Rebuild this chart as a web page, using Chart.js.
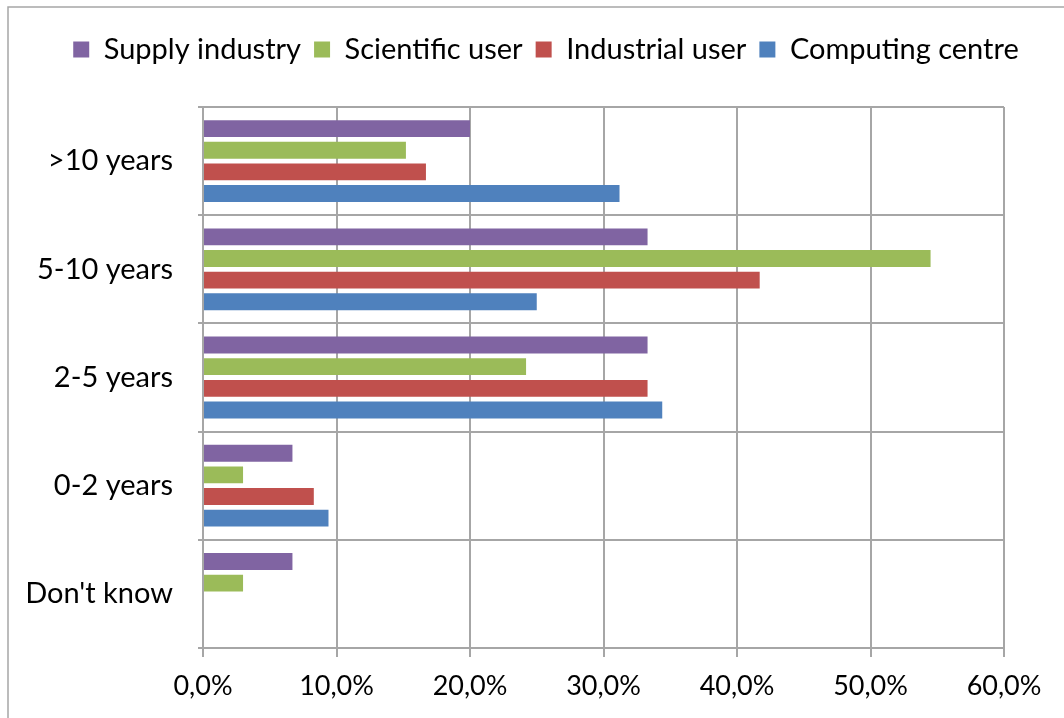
<!DOCTYPE html>
<html>
<head>
<meta charset="utf-8">
<script src="https://cdn.jsdelivr.net/npm/chart.js@4.4.1/dist/chart.umd.min.js"></script>
<style>
  html, body { margin: 0; padding: 0; background: #fff; }
  #wrap { width: 1064px; height: 718px; }
</style>
</head>
<body>
<div id="wrap"><canvas id="myChart" width="1064" height="718"></canvas></div>
<script>
// Données (en %)
const categories = ['>10 years', '5-10 years', '2-5 years', '0-2 years', "Don't know"];
const supplyIndustry  = [20.0, 33.3, 33.3, 6.7, 6.7];
const scientificUser  = [15.2, 54.5, 24.2, 3.0, 3.0];
const industrialUser  = [16.7, 41.7, 33.3, 8.3, 0];
const computingCentre = [31.2, 25.0, 34.4, 9.4, 0];
const xTicks = [0, 10, 20, 30, 40, 50, 60];

const FONT = 'Lato';
const gridColor = '#a6a6a6';

// Cadre gris autour du graphique
const framePlugin = {
    id: 'frame',
    beforeDraw(chart) {
        const ctx = chart.ctx;
        ctx.save();
        ctx.fillStyle = '#fff';
        ctx.fillRect(0, 0, chart.width, chart.height);
        ctx.strokeStyle = '#a6a6a6';
        ctx.lineWidth = 1.5;
        ctx.strokeRect(8, 7, chart.width + 20, chart.height + 20);
        ctx.restore();
    }
};

// Hauteur fixe pour la légende
const legendHeight = {
    id: 'legendHeight',
    beforeInit(chart) {
        const fit = chart.legend.fit;
        chart.legend.fit = function() {
            fit.bind(chart.legend)();
            this.height = 85;
        };
    }
};

const ctx = document.getElementById('myChart').getContext('2d');
const myChart = new Chart(ctx, {
    type: 'bar',
    data: {
        labels: categories,
        datasets: [
            { label: 'Supply industry',  data: supplyIndustry,  backgroundColor: '#8064A2' },
            { label: 'Scientific user',  data: scientificUser,  backgroundColor: '#9BBB59' },
            { label: 'Industrial user',  data: industrialUser,  backgroundColor: '#C0504D' },
            { label: 'Computing centre', data: computingCentre, backgroundColor: '#4F81BD' }
        ]
    },
    plugins: [framePlugin, legendHeight],
    options: {
        indexAxis: 'y',
        responsive: false,
        animation: false,
        devicePixelRatio: 1,
        categoryPercentage: 0.8,
        barPercentage: 0.78,
        layout: { padding: { left: 28, right: 0, top: 22, bottom: 0 } },
        scales: {
            x: {
                type: 'linear',
                min: 0,
                max: 60,
                afterBuildTicks: scale => { scale.ticks = xTicks.map(v => ({ value: v })); },
                afterFit: scale => { scale.height = 70; },
                grid: { color: gridColor, lineWidth: 2, tickLength: 9 },
                border: { display: false },
                ticks: {
                    color: '#000',
                    padding: 13,
                    font: { family: FONT, size: 27 },
                    callback: v => v.toFixed(1).replace('.', ',') + '%'
                }
            },
            y: {
                afterFit: scale => { scale.width = 175; },
                grid: { color: gridColor, lineWidth: 2, offset: true, tickLength: 5 },
                border: { display: false },
                ticks: {
                    color: '#000',
                    padding: 25,
                    font: { family: FONT, size: 29 }
                }
            },
            // marge vide à droite de la zone de tracé
            yRight: {
                type: 'category',
                position: 'right',
                afterFit: scale => { scale.width = 60; },
                grid: { display: false },
                border: { display: false },
                ticks: { display: false }
            }
        },
        plugins: {
            legend: {
                position: 'top',
                labels: {
                    color: '#000',
                    boxWidth: 16,
                    boxHeight: 16,
                    padding: 13,
                    font: { family: FONT, size: 29 }
                }
            },
            tooltip: { enabled: false }
        }
    }
});
</script>
</body>
</html>
